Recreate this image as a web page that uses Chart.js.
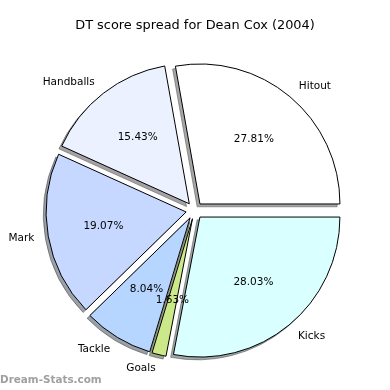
<!DOCTYPE html>
<html><head><meta charset="utf-8">
<script src="https://cdn.jsdelivr.net/npm/chart.js@4/dist/chart.umd.min.js"></script>
<style>html,body{margin:0;padding:0;background:#fff}#wrap{width:390px;height:390px}</style>
</head><body><div id="wrap"><canvas id="c" width="390" height="390"></canvas></div>
<script>
const TITLE = 'DT score spread for Dean Cox (2004)';
const WATERMARK = 'Dream-Stats.com';
// drawn clockwise from 3 o'clock
const categories = ['Kicks', 'Goals', 'Tackle', 'Mark', 'Handballs', 'Hitout'];
const values = [28.03, 1.63, 8.04, 19.07, 15.43, 27.81];
const sliceColors = ['#d9ffff', '#cce98a', '#b6d5ff', '#c6d8ff', '#ebf1ff', '#ffffff'];

const EXPLODE = 8.5, SHADOW_DX = -2.8, SHADOW_DY = 2.8, RADIUS = 140;
const FONT = '"DejaVu Sans", sans-serif';

function shadowColor(hex) {
  const n = parseInt(hex.slice(1), 16);
  const r = (n >> 16) & 255, g = (n >> 8) & 255, b = n & 255;
  return `rgba(${Math.round(r * 0.3)},${Math.round(g * 0.3)},${Math.round(b * 0.3)},0.5)`;
}

class ExplodedPie extends Chart.PieController {
  static id = 'explodedPie';
  draw() {
    const ctx = this._ctx;
    const els = this._cachedMeta.data || [];
    els.forEach((el, i) => {
      if (el.hidden) return;
      const mid = (el.startAngle + el.endAngle) / 2;
      const col = shadowColor(sliceColors[i]);
      const ghost = Object.create(el);
      ghost.options = Object.assign({}, el.options, {backgroundColor: col, borderColor: col});
      ctx.save();
      ctx.translate(Math.cos(mid) * EXPLODE + SHADOW_DX, Math.sin(mid) * EXPLODE + SHADOW_DY);
      Chart.ArcElement.prototype.draw.call(ghost, ctx);
      ctx.restore();
    });
    els.forEach((el) => {
      if (el.hidden) return;
      const mid = (el.startAngle + el.endAngle) / 2;
      ctx.save();
      ctx.translate(Math.cos(mid) * EXPLODE, Math.sin(mid) * EXPLODE);
      el.draw(ctx, this.chart.chartArea);
      ctx.restore();
    });
  }
}
Chart.register(ExplodedPie);

const textPlugin = {
  id: 'texts',
  afterDatasetsDraw(chart) {
    const ctx = chart.ctx;
    const meta = chart.getDatasetMeta(0);
    ctx.save();
    ctx.fillStyle = '#000';
    ctx.font = `10.5px ${FONT}`;
    ctx.textBaseline = 'middle';
    meta.data.forEach((el, i) => {
      const mid = (el.startAngle + el.endAngle) / 2;
      const c = Math.cos(mid), s = Math.sin(mid);
      const R = el.outerRadius;
      const pr = EXPLODE + 0.6 * R;
      ctx.textAlign = 'center';
      ctx.fillText(values[i].toFixed(2) + '%', el.x + c * pr, el.y + s * pr);
      const lr = EXPLODE + 1.1 * R;
      ctx.textAlign = c > 0 ? 'left' : 'right';
      ctx.fillText(categories[i], el.x + c * lr, el.y + s * lr);
    });
    ctx.font = `12.9px ${FONT}`;
    ctx.textAlign = 'center';
    ctx.fillText(TITLE, 195, 25.5);
    ctx.font = `bold 10.4px ${FONT}`;
    ctx.fillStyle = '#a0a0a0';
    ctx.textAlign = 'left';
    ctx.fillText(WATERMARK, 0, 380.5);
    ctx.restore();
  }
};

new Chart(document.getElementById('c'), {
  type: 'explodedPie',
  data: {
    labels: categories,
    datasets: [{
      data: values,
      backgroundColor: sliceColors,
      borderColor: '#000',
      borderWidth: 1,
      borderJoinStyle: 'miter'
    }]
  },
  options: {
    responsive: false,
    animation: false,
    events: [],
    rotation: 90,
    radius: RADIUS,
    layout: {padding: {top: 31, left: 0, right: 1, bottom: 0}},
    plugins: {legend: {display: false}, title: {display: false}, tooltip: {enabled: false}}
  },
  plugins: [textPlugin]
});
</script>
</body></html>
